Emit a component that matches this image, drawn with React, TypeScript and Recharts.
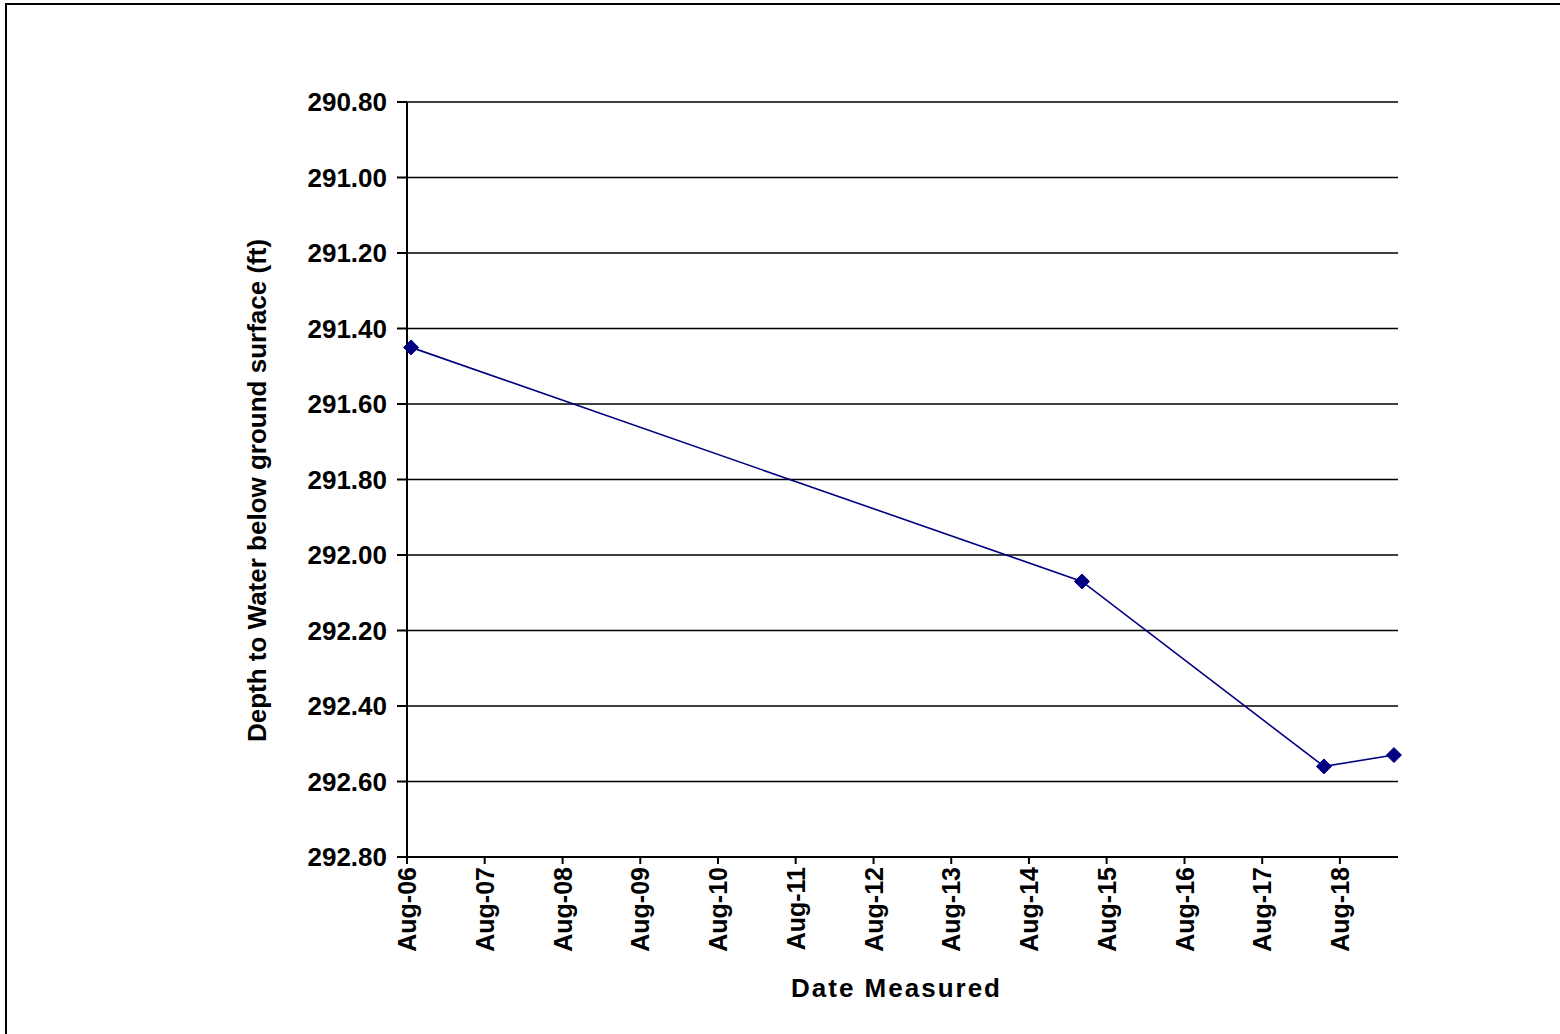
import React from 'react';
import { LineChart, Line, XAxis, YAxis, CartesianGrid } from 'recharts';

const measuredDates: number[] = [
  Date.UTC(2006, 7, 20),
  Date.UTC(2015, 3, 7),
  Date.UTC(2018, 4, 18),
  Date.UTC(2019, 3, 12),
];
const depthValues: number[] = [291.45, 292.07, 292.56, 292.53];

const xTickDates: number[] = [2006, 2007, 2008, 2009, 2010, 2011, 2012, 2013, 2014, 2015, 2016, 2017, 2018].map(
  (y) => Date.UTC(y, 7, 1)
);
const xDomain: [number, number] = [Date.UTC(2006, 7, 1), Date.UTC(2019, 4, 1)];
const yTicks: number[] = [290.8, 291.0, 291.2, 291.4, 291.6, 291.8, 292.0, 292.2, 292.4, 292.6, 292.8];
const yDomain: [number, number] = [290.8, 292.8];

const MONTHS = ['Jan', 'Feb', 'Mar', 'Apr', 'May', 'Jun', 'Jul', 'Aug', 'Sep', 'Oct', 'Nov', 'Dec'];
const fmtDate = (t: number) => {
  const d = new Date(t);
  return `${MONTHS[d.getUTCMonth()]}-${String(d.getUTCFullYear() % 100).padStart(2, '0')}`;
};

const data = measuredDates.map((t, i) => ({ t, depth: depthValues[i] }));

const FONT = 'Arial, "Liberation Sans", sans-serif';
const NAVY = '#000080';

const XTick = (props: any) => {
  const { x, y, payload } = props;
  return (
    <g transform={`translate(${x},${y})`}>
      <text
        transform="rotate(-90)"
        x={-3}
        y={0}
        dy="0.36em"
        textAnchor="end"
        fontFamily={FONT}
        fontWeight="bold"
        fontSize={25}
        fill="#000"
      >
        {fmtDate(payload.value)}
      </text>
    </g>
  );
};

const Diamond = (props: any) => {
  const { cx, cy } = props;
  if (cx == null || cy == null) return null;
  const r = 7.5;
  return (
    <polygon
      points={`${cx},${cy - r} ${cx + r},${cy} ${cx},${cy + r} ${cx - r},${cy}`}
      fill={NAVY}
      stroke={NAVY}
      strokeWidth={1}
    />
  );
};

const YLabel = (props: any) => {
  const { viewBox } = props;
  const x = viewBox.x + 20;
  const y = viewBox.y + viewBox.height / 2 + 11;
  return (
    <text
      x={x}
      y={y}
      transform={`rotate(-90, ${x}, ${y})`}
      textAnchor="middle"
      dominantBaseline="central"
      fontFamily={FONT}
      fontWeight="bold"
      fontSize={26}
      fill="#000"
    >
      Depth to Water below ground surface (ft)
    </text>
  );
};

const XLabel = (props: any) => {
  const { viewBox } = props;
  const x = viewBox.x + viewBox.width / 2 - 6;
  const y = 988;
  return (
    <text
      x={x}
      y={y}
      textAnchor="middle"
      dominantBaseline="central"
      fontFamily={FONT}
      fontWeight="bold"
      fontSize={26}
      letterSpacing={2}
      fill="#000"
    >
      Date Measured
    </text>
  );
};

export default function App() {
  return (
    <div style={{ position: 'absolute', left: 0, top: 0, width: 1560, height: 1034, overflow: 'hidden', background: '#fff' }}>
      <div
        style={{
          position: 'absolute',
          left: 5,
          top: 3,
          width: 2000,
          height: 2000,
          borderLeft: '2px solid #000',
          borderTop: '2px solid #000',
        }}
      />
      <div style={{ position: 'absolute', left: 0, top: 0 }}>
        <LineChart width={1560} height={1034} data={data} margin={{ top: 102, right: 162, bottom: 27, left: 237 }}>
          <CartesianGrid vertical={false} stroke="#000" strokeWidth={1.5} />
          <XAxis
            dataKey="t"
            type="number"
            scale="time"
            domain={xDomain}
            ticks={xTickDates}
            tick={<XTick />}
            tickSize={7}
            tickMargin={0}
            height={150}
            interval={0}
            axisLine={{ stroke: '#000', strokeWidth: 2 }}
            tickLine={{ stroke: '#000', strokeWidth: 2 }}
            label={<XLabel />}
          />
          <YAxis
            type="number"
            reversed
            domain={yDomain}
            ticks={yTicks}
            interval={0}
            width={170}
            tickSize={10}
            tickMargin={10}
            tickFormatter={(v: number) => v.toFixed(2)}
            tick={{ fill: '#000', fontFamily: FONT, fontWeight: 'bold', fontSize: 26 }}
            axisLine={{ stroke: '#000', strokeWidth: 2 }}
            tickLine={{ stroke: '#000', strokeWidth: 2 }}
            label={<YLabel />}
          />
          <Line
            dataKey="depth"
            stroke={NAVY}
            strokeWidth={1.6}
            dot={<Diamond />}
            activeDot={false}
            isAnimationActive={false}
          />
        </LineChart>
      </div>
    </div>
  );
}
